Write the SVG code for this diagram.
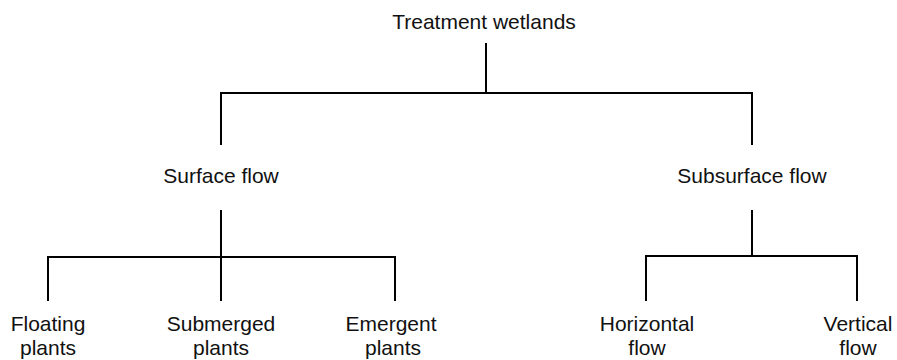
<svg xmlns="http://www.w3.org/2000/svg" width="897" height="360" viewBox="0 0 897 360">
<style>
.t{font-family:"Liberation Sans",Arial,sans-serif;font-size:21px;fill:#111;text-anchor:middle}
.c{stroke:#000;stroke-width:2;fill:none;stroke-linecap:square}
</style>
<rect width="897" height="360" fill="#fff"/>
<g id="connectors">
<path class="c" d="M486 44V93M221 93H752M221 93V144M752 93V144"/>
<path class="c" d="M221 211V300M48 257H395M48 257V300M395 257V300"/>
<path class="c" d="M752 211V256M646 256H857M646 256V300M857 256V300"/>
</g>
<g id="treatment"><text class="t" x="484" y="29">Treatment wetlands</text></g>
<g id="surface"><text class="t" x="221" y="183">Surface flow</text></g>
<g id="subsurface"><text class="t" x="752" y="183">Subsurface flow</text></g>
<g id="floating"><text class="t" x="48" y="331">Floating</text><text class="t" x="48" y="355">plants</text></g>
<g id="submerged"><text class="t" x="221" y="331">Submerged</text><text class="t" x="221" y="355">plants</text></g>
<g id="emergent"><text class="t" x="391" y="331">Emergent</text><text class="t" x="393" y="355">plants</text></g>
<g id="horizontal"><text class="t" x="647" y="331">Horizontal</text><text class="t" x="647" y="355">flow</text></g>
<g id="vertical"><text class="t" x="858" y="331">Vertical</text><text class="t" x="858" y="355">flow</text></g>
</svg>
